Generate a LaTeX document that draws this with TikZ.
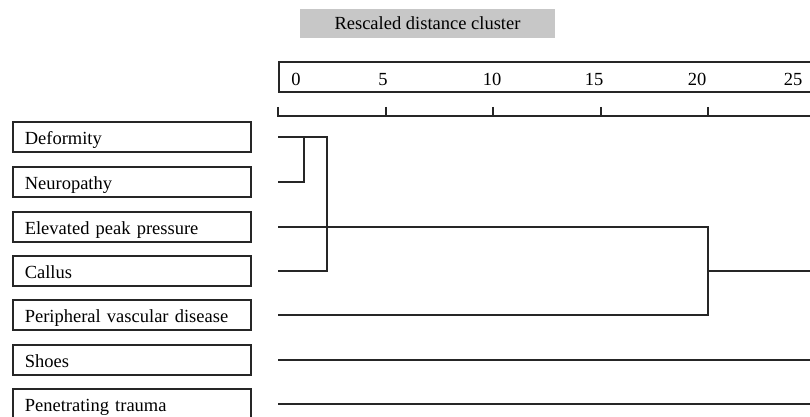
\documentclass[tikz,border=0pt]{standalone}
\usepackage{fontspec}
\setmainfont{Liberation Serif}
\begin{document}
\begin{tikzpicture}[x=1pt,y=-1pt,
  ln/.style={draw=black!85,line width=1.6pt},
  lbl/.style={ln,rectangle,anchor=west,minimum height=30pt,text width=214pt,
    text height=14.5pt,text depth=0pt,
    inner xsep=12pt,inner ysep=0pt,align=left,font=\fontsize{18.5}{20}\selectfont},
  num/.style={font=\fontsize{18.5}{20}\selectfont,inner sep=0pt},
  title/.style={fill=black!22,minimum width=255pt,minimum height=29pt,inner sep=0pt,
    font=\fontsize{18.5}{20}\selectfont}]
\useasboundingbox (0,0) rectangle (810,417);
\clip (0,0) rectangle (810,417);
% title
\node[title] (title) at (427.5,23.5) {Rescaled distance cluster};
% axis box
\draw[ln] (830,62) -- (279,62) -- (279,92) -- (830,92);
\foreach \v/\x in {0/296,5/383,10/492,15/594,20/697,25/793}
  \node[num] (n\v) at (\x,79.5) {\v};
% tick line
\draw[ln] (278,116) -- (830,116);
\foreach \x in {278,386,493,601,708}
  \draw[ln] (\x,107) -- (\x,117);
% labels
\node[lbl] (l1) at (12,137) {Deformity};
\node[lbl] (l2) at (12,182) {Neuropathy};
\node[lbl] (l3) at (12,227) {Elevated peak pressure};
\node[lbl] (l4) at (12,271) {Callus};
\node[lbl] (l5) at (12,315) {Peripheral vascular disease};
\node[lbl] (l6) at (12,360) {Shoes};
\node[lbl] (l7) at (12,404) {Penetrating trauma};
% leaf coordinates
\coordinate (a1) at (278,137);
\coordinate (a2) at (278,182);
\coordinate (a3) at (278,227);
\coordinate (a4) at (278,271);
\coordinate (a5) at (278,315);
\coordinate (a6) at (278,360);
\coordinate (a7) at (278,404);
\coordinate (j1) at (304,137);
\coordinate (j1b) at (304,182);
\coordinate (j2) at (327,137);
\coordinate (j2b) at (327,271);
\coordinate (j3) at (708,227);
\coordinate (j3b) at (708,315);
\coordinate (j3m) at (708,271);
\coordinate (e3) at (812,271);
\coordinate (e6) at (812,360);
\coordinate (e7) at (812,404);
% dendrogram
\draw[ln] (a1) -- (j2) -- (j2b) -- (a4);
\draw[ln] (a2) -- (j1b) -- (j1);
\draw[ln] (a3) -- (j3) -- (j3b) -- (a5);
\draw[ln] (j3m) -- (e3);
\draw[ln] (a6) -- (e6);
\draw[ln] (a7) -- (e7);
\end{tikzpicture}
\end{document}
